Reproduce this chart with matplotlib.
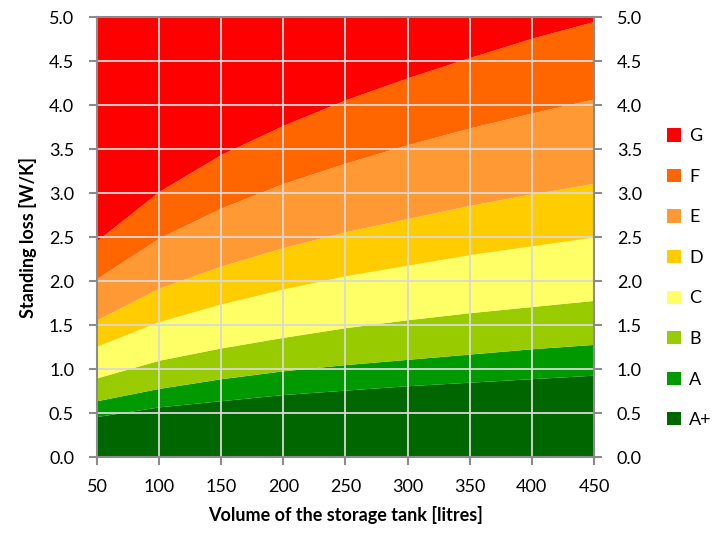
import matplotlib
matplotlib.use("Agg")
import matplotlib.pyplot as plt
from matplotlib.patches import Patch
import numpy as np

plt.rcParams['font.family'] = ['Lato', 'DejaVu Sans']

volume = [50, 100, 150, 200, 250, 300, 350, 400, 450]
classes = ["A+", "A", "B", "C", "D", "E", "F", "G"]
# upper limit of each class [W/K]
upper_Aplus = [0.46, 0.57, 0.64, 0.71, 0.76, 0.81, 0.85, 0.89, 0.93]
upper_A     = [0.64, 0.78, 0.89, 0.98, 1.05, 1.11, 1.17, 1.23, 1.28]
upper_B     = [0.90, 1.10, 1.24, 1.36, 1.47, 1.56, 1.64, 1.71, 1.78]
upper_C     = [1.26, 1.54, 1.74, 1.91, 2.06, 2.18, 2.30, 2.40, 2.50]
upper_D     = [1.56, 1.92, 2.17, 2.38, 2.56, 2.71, 2.86, 2.99, 3.11]
upper_E     = [2.03, 2.49, 2.83, 3.11, 3.34, 3.55, 3.74, 3.91, 4.07]
upper_F     = [2.46, 3.02, 3.44, 3.77, 4.06, 4.31, 4.54, 4.76, 4.95]
upper_G     = [5.0, 5.0, 5.0, 5.0, 5.0, 5.0, 5.0, 5.0, 5.0]
colors = ["#006600", "#009900", "#99CC00", "#FFFF66", "#FFCC00", "#FF9933", "#FF6600", "#FF0000"]

yticks = [0.0, 0.5, 1.0, 1.5, 2.0, 2.5, 3.0, 3.5, 4.0, 4.5, 5.0]

uppers = [upper_Aplus, upper_A, upper_B, upper_C, upper_D, upper_E, upper_F, upper_G]

fig = plt.figure(figsize=(7.22, 5.33), dpi=100)
ax = fig.add_axes([97/722, 1-457/533, (594-97)/722, (457-17)/533])

lower = [0.0]*len(volume)
for up, c, lab in zip(uppers, colors, classes):
    ax.fill_between(volume, lower, up, color=c, linewidth=0, zorder=1)
    lower = up

ax.set_xlim(50, 450)
ax.set_ylim(0, 5)
ax.set_xticks(volume)
ax.set_yticks(yticks)
ax.set_yticklabels([f"{v:.1f}" for v in yticks])
ax.grid(True, color="#d9d9d9", linewidth=1.3, zorder=2)
ax.set_axisbelow(False)
for s in ax.spines.values():
    s.set_color("#8c8c8c")
    s.set_linewidth(1.5)
    s.set_zorder(3)
ax.tick_params(axis='both', direction='out', length=6, width=1.5, color="#8c8c8c",
               labelsize=13)
ax.tick_params(axis='x', pad=10)
ax.tick_params(axis='y', right=True, labelright=True, pad=10.5)

ax.set_xlabel("Volume of the storage tank [litres]", fontsize=13, fontweight='bold')
ax.set_ylabel("Standing loss [W/K]", fontsize=13, fontweight='bold')
ax.xaxis.set_label_coords(0.5, -0.112)
ax.yaxis.set_label_coords(-0.121, 0.5)

handles = [Patch(facecolor=c, edgecolor='none') for c in colors][::-1]
labels = classes[::-1]
leg = fig.legend(handles, labels, loc='upper left', bbox_to_anchor=(660/722, 1-121/533),
                 frameon=False, fontsize=13, handlelength=0.75, handleheight=0.75,
                 handletextpad=0.45, labelspacing=1.36, borderaxespad=0)

fig.savefig("out.png", dpi=100)
